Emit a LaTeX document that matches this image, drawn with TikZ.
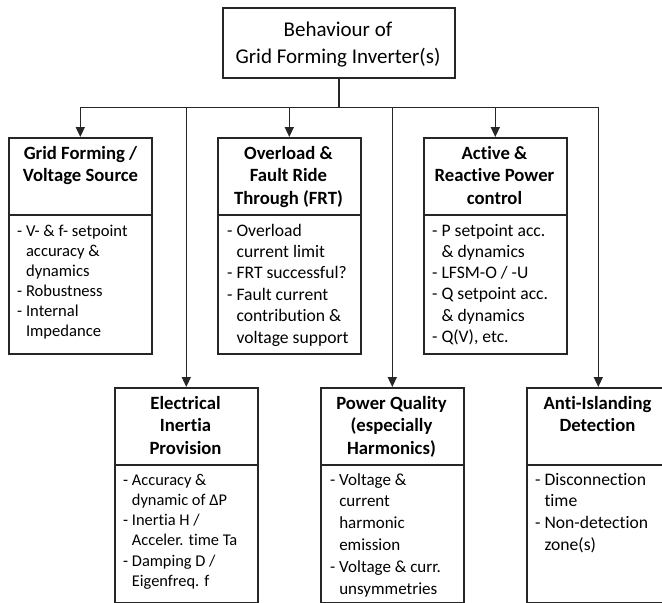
\documentclass[tikz,border=0pt]{standalone}
\usepackage{fontspec}
\setmainfont{Carlito}[Ligatures={NoCommon}]
\usetikzlibrary{arrows.meta}
\newcommand\dsh{- }
\newcommand\cnt{\hphantom{- }}
\tikzset{
  x=1pt, y=-1pt,
  frame/.style={draw=black!85, line width=1.6pt, inner sep=0pt, anchor=north west, minimum width=143pt},
  toprow/.style={frame, minimum height=216pt},
  botrow/.style={frame, minimum height=215pt},
  divider/.style={draw=black!85, line width=1.6pt},
  conn/.style={draw=black!85, line width=1.6pt},
  arr/.style={conn, -{Triangle[length=10pt,width=9pt]}},
  hdr/.style={anchor=base, inner sep=0pt},
  bod/.style={anchor=base west, inner sep=0pt},
}
\newcommand\hd[1]{\parbox[t]{150pt}{\centering\bfseries\fontsize{18.7}{22.7}\selectfont #1}}
\newcommand\bd[3]{\parbox[t]{140pt}{\raggedright\fontsize{#1}{#2}\selectfont #3}}
\begin{document}
\begin{tikzpicture}
\useasboundingbox (0,0) rectangle (662,603);
\clip (0,0) rectangle (662,603);
% top box
\node[frame, minimum width=232pt, minimum height=70pt] (top) at (222,7) {};
\node[anchor=base, inner sep=0pt] (toptxt) at (338,36.7)
  {\parbox[t]{230pt}{\centering\fontsize{21}{26.6}\selectfont Behaviour of\\Grid Forming Inverter(s)}};
% boxes
\node[toprow] (b1) at (8,137) {};
\node[toprow] (b2) at (217,137) {};
\node[toprow] (b3) at (423,137) {};
\node[botrow] (b4) at (114,387) {};
\node[botrow] (b5) at (320,387) {};
\node[botrow] (b6) at (526,387) {};
% dividers
\foreach \b in {b1,b2,b3,b4,b5,b6}{
  \draw[divider] (\b.north west) ++(0,78) coordinate (\b d) -- (\b.north east |- \b d);
}
% connectors
\draw[conn] (top.south) -- ++(0,29) coordinate (j);
\draw[arr] (j) -| (b1.north);
\draw[arr] (j) -| (b6.north);
\draw[arr] (b2.north |- j) -- (b2.north);
\draw[arr] (b3.north |- j) -- (b3.north);
\draw[arr] (b4.north |- j) -- (b4.north);
\draw[arr] (b5.north |- j) -- (b5.north);
% headers
\node[hdr] (h1) at (80.5,159) {\hd{Grid Forming /\\Voltage Source}};
\node[hdr] (h2) at (288.5,159) {\hd{Overload \&\\Fault Ride\\Through (FRT)}};
\node[hdr] (h3) at (494.5,159) {\hd{Active \&\\Reactive Power\\control}};
\node[hdr] (h4) at (185.5,409) {\hd{Electrical\\Inertia\\Provision}};
\node[hdr] (h5) at (391.5,409) {\hd{Power Quality\\(especially\\Harmonics)}};
\node[hdr] (h6) at (597.5,409) {\hd{Anti-Islanding\\Detection}};
% bodies
\node[bod] (t1) at (17,236) {\bd{16.6}{20}{\dsh V- \& f- setpoint\\ \cnt accuracy \&\\ \cnt dynamics\\ \dsh Robustness\\ \dsh Internal\\ \cnt Impedance}};
\node[bod] (t2) at (227,236) {\bd{17.6}{21.4}{\dsh Overload\\ \cnt current limit\\ \dsh FRT successful?\\ \dsh Fault current\\ \cnt contribution \&\\ \cnt voltage support}};
\node[bod] (t3) at (432,236) {\bd{17.6}{21.3}{\dsh P setpoint acc.\\ \cnt \& dynamics\\ \dsh LFSM-O / -U\\ \dsh Q setpoint acc.\\ \cnt \& dynamics\\ \dsh Q(V), etc.}};
\node[bod] (t4) at (123,485) {\bd{16.4}{20.3}{\dsh Accuracy \&\\ \cnt dynamic of ΔP\\ \dsh Inertia H /\\ \cnt Acceler. time Ta\\ \dsh Damping D /\\ \cnt Eigenfreq. f}};
\node[bod] (t5) at (330,485) {\bd{17}{21.8}{\dsh Voltage \&\\ \cnt current\\ \cnt harmonic\\ \cnt emission\\ \dsh Voltage \& curr.\\ \cnt unsymmetries}};
\node[bod] (t6) at (535,485) {\bd{17.6}{21.7}{\dsh Disconnection\\ \cnt time\\ \dsh Non-detection\\ \cnt zone(s)}};
\end{tikzpicture}
\end{document}
